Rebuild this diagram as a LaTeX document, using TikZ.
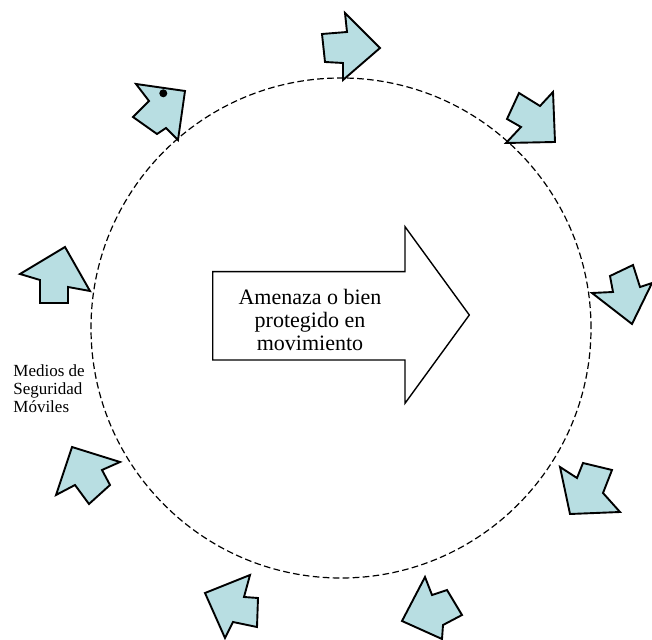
\documentclass[tikz,border=0pt]{standalone}
\usepackage{fontspec}
\setmainfont{Liberation Serif}
\definecolor{celeste}{RGB}{184,222,226}

\begin{document}
\begin{tikzpicture}[x=0.5pt,y=-0.5pt]
  \tikzset{movil/.style={draw=black,line width=0.95pt,fill=celeste,line join=miter}}
  \tikzset{ronda/.style={dash pattern=on 3.3pt off 1.7pt,line width=0.6pt}}
  \tikzset{flecha/.style={draw=black,line width=0.7pt,fill=white}}
  \useasboundingbox (0,0) rectangle (652,640);
  \coordinate (centro) at (341,328);
  \draw[ronda] (centro) circle[radius=125pt];
  \draw[flecha] (212.7,271.7) -- (405,271.7) -- (405,226.7) -- (469.3,315)
                -- (405,403.3) -- (405,360) -- (212.7,360) -- cycle;
  \node[align=center,font=\fontsize{11}{11.7}\selectfont] (amenaza) at (310,320) {Amenaza o bien\\protegido en\\movimiento};
  \node[align=left,anchor=north west,inner sep=0pt,font=\fontsize{8.5}{9.2}\selectfont] (medios) at (13,364) {Medios de\\Seguridad\\Móviles};
  \draw[movil] (136,84) -- (185,91) -- (178,140) -- (166,128) -- (157,134) -- (133,117) -- (149,101) -- cycle;
  \fill (163.3,93.3) circle[radius=2pt];
  \draw[movil] (380,48) -- (345,13) -- (347,32) -- (322,34) -- (325,62) -- (343,63) -- (343,80) -- cycle;
  \draw[movil] (519,93) -- (540,106) -- (553,92) -- (555,142) -- (506,143) -- (521,127) -- (507,119) -- cycle;
  \draw[movil] (592,293) -- (613,292) -- (610,276) -- (633,265) -- (640,287) -- (652,283) -- (632,324) -- cycle;
  \draw[movil] (560,467) -- (577,478) -- (583,463) -- (612,470) -- (603,493) -- (620,512) -- (570,514) -- cycle;
  \draw[movil] (425,577) -- (432,595) -- (447,590) -- (462,615) -- (443,625) -- (442,639) -- (402,621) -- cycle;
  \draw[movil] (205,593) -- (250,575) -- (244,597) -- (258,598) -- (257,627) -- (233,622) -- (225,638) -- cycle;
  \draw[movil] (72,447) -- (120,462) -- (102,470) -- (110,485) -- (89,504) -- (75,485) -- (56,495) -- cycle;
  \draw[movil] (65,247) -- (90,291) -- (68,287) -- (68,303) -- (40,303) -- (40,280) -- (20,274) -- cycle;
\end{tikzpicture}
\end{document}
